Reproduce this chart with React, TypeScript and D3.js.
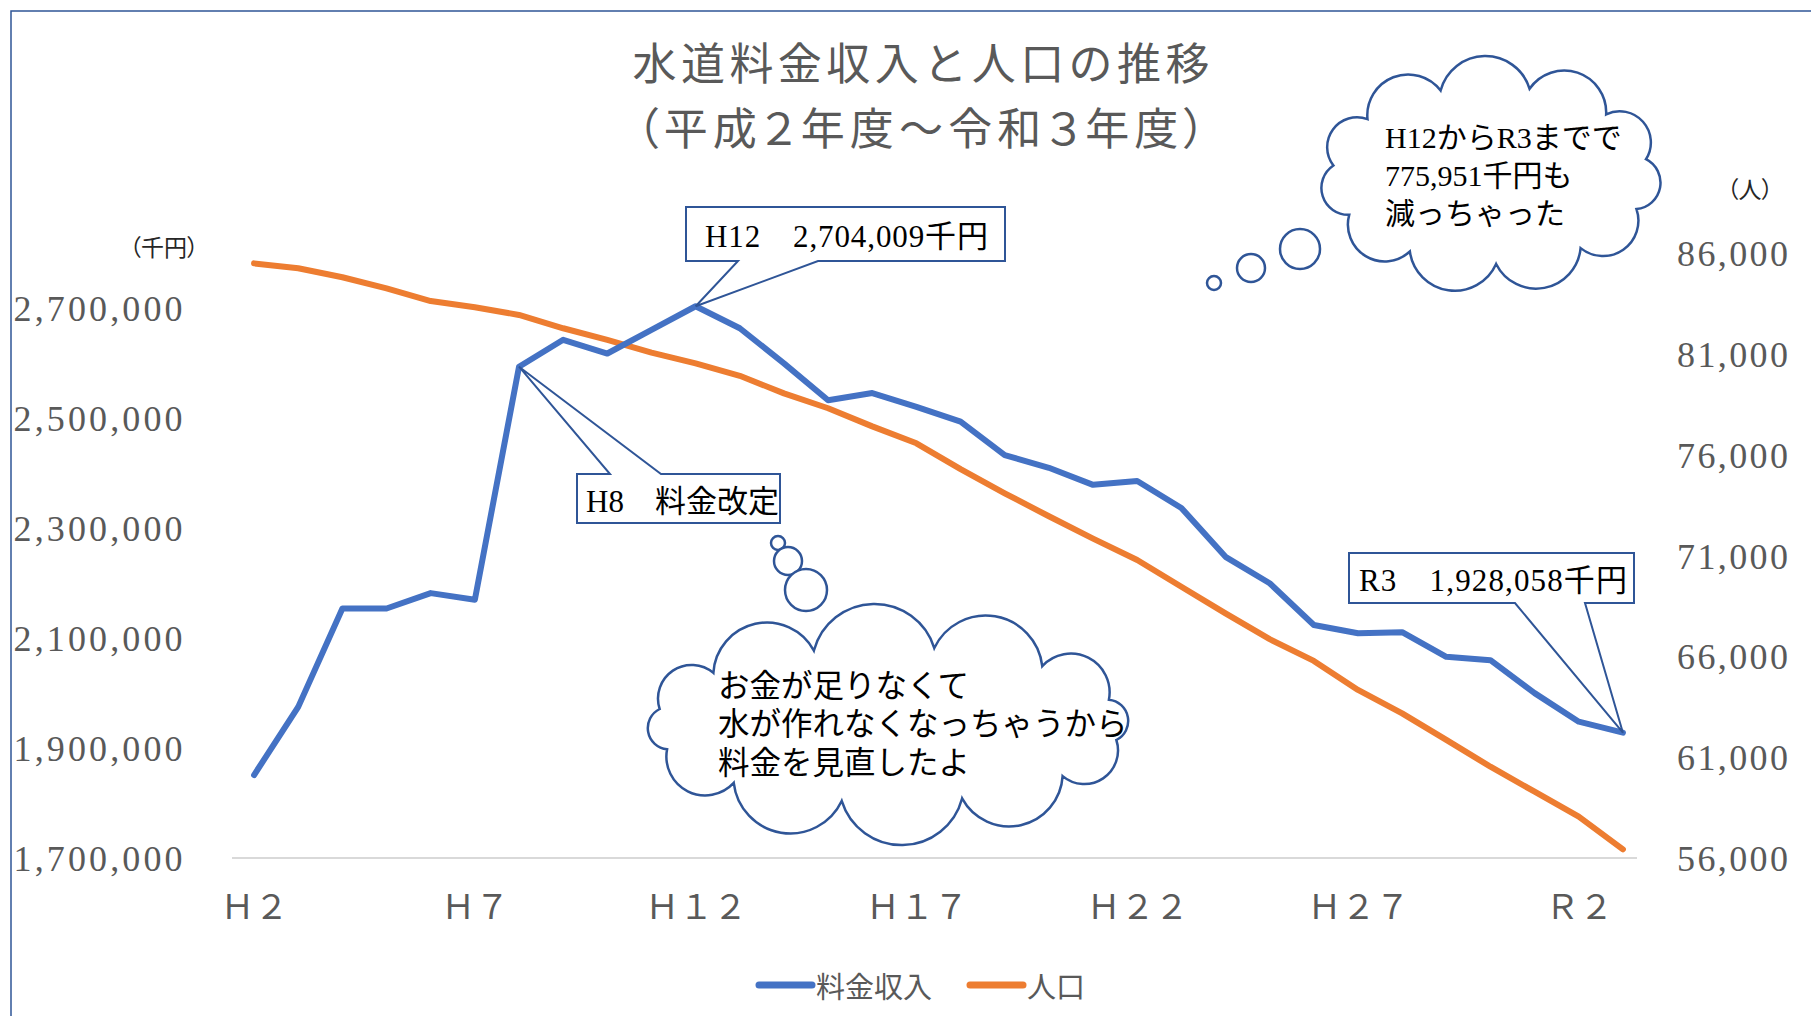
import { useEffect, useRef } from "react";
import * as d3 from "d3";

// fiscal years H2 .. R3
const years = [
  "Ｈ２", "Ｈ３", "Ｈ４", "Ｈ５", "Ｈ６", "Ｈ７", "Ｈ８", "Ｈ９", "Ｈ１０", "Ｈ１１",
  "Ｈ１２", "Ｈ１３", "Ｈ１４", "Ｈ１５", "Ｈ１６", "Ｈ１７", "Ｈ１８", "Ｈ１９", "Ｈ２０", "Ｈ２１",
  "Ｈ２２", "Ｈ２３", "Ｈ２４", "Ｈ２５", "Ｈ２６", "Ｈ２７", "Ｈ２８", "Ｈ２９", "Ｈ３０", "Ｒ１",
  "Ｒ２", "Ｒ３",
];
const shownYears = ["Ｈ２", "Ｈ７", "Ｈ１２", "Ｈ１７", "Ｈ２２", "Ｈ２７", "Ｒ２"];

// 料金収入 (千円)
const revenue = [
  1851000, 1975000, 2154000, 2154000, 2182000, 2170000, 2594000, 2643000, 2618000, 2661000,
  2704009, 2664000, 2600000, 2533000, 2546000, 2521000, 2494000, 2433000, 2410000, 2379000,
  2386000, 2337000, 2248000, 2200000, 2124000, 2109000, 2111000, 2066000, 2060000, 2000000,
  1948000, 1928058,
];

// 人口 (人)
const population = [
  85510, 85270, 84820, 84270, 83640, 83330, 82950, 82290, 81710, 81080,
  80550, 79930, 79060, 78320, 77420, 76580, 75300, 74100, 72960, 71850,
  70790, 69460, 68140, 66860, 65780, 64340, 63180, 61860, 60530, 59290,
  58050, 56430,
];

const leftTicks = [1700000, 1900000, 2100000, 2300000, 2500000, 2700000];
const rightTicks = [56000, 61000, 66000, 71000, 76000, 81000, 86000];
const seriesNames = ["料金収入", "人口"];

const W = 1811;
const H = 1016;
const left = 232;
const right = 1645;
const top = 253.5;
const bottom = 858;

const GRAY = "#595959";
const BLUE = "#4472C4";
const ORANGE = "#ED7D31";
const EDGE = "#2F5597";
const serif = "'Liberation Serif', 'Noto Sans CJK JP', serif";
const sans = "'Noto Sans CJK JP', sans-serif";

// scalloped cloud outline around an ellipse
const cloudPath = (cx: number, cy: number, rx: number, ry: number, n: number, start: number) => {
  const pts: [number, number][] = [];
  for (let i = 0; i <= n; i++) {
    const a = start + (i / n) * Math.PI * 2;
    pts.push([cx + rx * Math.cos(a), cy + ry * Math.sin(a)]);
  }
  let d = `M${pts[0][0]},${pts[0][1]}`;
  for (let i = 1; i < pts.length; i++) {
    const [x0, y0] = pts[i - 1];
    const [x1, y1] = pts[i];
    const r = Math.hypot(x1 - x0, y1 - y0) * 0.52;
    d += `A${r},${r} 0 0 1 ${x1},${y1}`;
  }
  return d + "Z";
};

const App = () => {
  const ref = useRef<SVGSVGElement>(null);

  useEffect(() => {
    const svg = d3.select(ref.current);
    svg.selectAll("*").remove();

    const x = d3.scalePoint<string>().domain(years).range([left, right]).padding(0.5);
    const yL = d3.scaleLinear().domain([1700000, 2800000]).range([bottom, top]);
    const yR = d3.scaleLinear().domain([56000, 86000]).range([bottom, top]);

    // chart area border
    svg.append("rect")
      .attr("x", 11).attr("y", 11)
      .attr("width", W).attr("height", H)
      .attr("fill", "none").attr("stroke", EDGE).attr("stroke-width", 1.5);

    // title
    const title = svg.append("g").attr("font-family", sans).attr("fill", GRAY).attr("text-anchor", "middle");
    title.append("text").attr("x", 921).attr("y", 61).attr("dominant-baseline", "central")
      .attr("font-size", 44).attr("textLength", 577).attr("lengthAdjust", "spacing")
      .text("水道料金収入と人口の推移");
    title.append("text").attr("x", 921).attr("y", 126).attr("dominant-baseline", "central")
      .attr("font-size", 44).attr("textLength", 569).attr("lengthAdjust", "spacing")
      .style("font-feature-settings", "'palt'").text("（平成２年度～令和３年度）");

    // units
    svg.append("text").attr("x", 164).attr("y", 246).attr("text-anchor", "middle")
      .attr("dominant-baseline", "central").attr("font-family", sans).attr("font-size", 23)
      .attr("fill", "#262626").style("font-feature-settings", "'palt'").text("（千円）");
    svg.append("text").attr("x", 1750).attr("y", 188).attr("text-anchor", "middle")
      .attr("dominant-baseline", "central").attr("font-family", sans).attr("font-size", 23)
      .attr("fill", "#262626").style("font-feature-settings", "'palt'").text("（人）");

    // baseline
    svg.append("line")
      .attr("x1", left).attr("x2", right - 8)
      .attr("y1", bottom).attr("y2", bottom)
      .attr("stroke", "#D9D9D9").attr("stroke-width", 2);

    // left axis
    const gL = svg.append("g").attr("transform", "translate(182.5,0)")
      .call(d3.axisLeft(yL).tickValues(leftTicks).tickSize(0).tickPadding(0).tickFormat(d3.format(",")));
    gL.select(".domain").remove();
    gL.selectAll("text")
      .attr("fill", GRAY).attr("font-family", serif).attr("font-size", 36)
      .attr("dy", "0.34em").attr("textLength", 169).attr("lengthAdjust", "spacing");

    // right axis
    const gR = svg.append("g").attr("transform", "translate(1677,0)")
      .call(d3.axisRight(yR).tickValues(rightTicks).tickSize(0).tickPadding(0).tickFormat(d3.format(",")));
    gR.select(".domain").remove();
    gR.selectAll("text")
      .attr("fill", GRAY).attr("font-family", serif).attr("font-size", 36)
      .attr("dy", "0.34em").attr("textLength", 111).attr("lengthAdjust", "spacing");

    // category axis
    const gX = svg.append("g").attr("transform", `translate(0,904)`)
      .call(d3.axisBottom(x).tickValues(shownYears).tickSize(0).tickPadding(0));
    gX.select(".domain").remove();
    gX.selectAll("text")
      .attr("fill", GRAY).attr("font-family", sans).attr("font-size", 34)
      .attr("dy", null).attr("y", 0).attr("dominant-baseline", "central");

    // series
    const lineL = d3.line<number>().x((_, i) => x(years[i]) as number).y((d) => yL(d));
    const lineR = d3.line<number>().x((_, i) => x(years[i]) as number).y((d) => yR(d));
    svg.append("path").datum(population)
      .attr("fill", "none").attr("stroke", ORANGE).attr("stroke-width", 6)
      .attr("stroke-linejoin", "round").attr("stroke-linecap", "round").attr("d", lineR);
    svg.append("path").datum(revenue)
      .attr("fill", "none").attr("stroke", BLUE).attr("stroke-width", 6)
      .attr("stroke-linejoin", "round").attr("stroke-linecap", "round").attr("d", lineL);

    // legend
    const legend = svg.append("g");
    [BLUE, ORANGE].forEach((c, i) => {
      const lx = [759, 970][i];
      legend.append("line").attr("x1", lx).attr("x2", lx + 53).attr("y1", 985).attr("y2", 985)
        .attr("stroke", c).attr("stroke-width", 7).attr("stroke-linecap", "round");
      legend.append("text").attr("x", lx + 57).attr("y", 985).attr("dominant-baseline", "central")
        .attr("font-family", sans).attr("font-size", 29).attr("fill", GRAY).text(seriesNames[i]);
    });

    // callouts
    const callout = (
      rx0: number, ry0: number, rx1: number, ry1: number,
      side: "top" | "bottom", b0: number, b1: number, tip: [number, number],
      label: string, tx: number, ty: number, tl: number | null
    ) => {
      const d = side === "bottom"
        ? `M${rx0},${ry0}H${rx1}V${ry1}H${b1}L${tip[0]},${tip[1]}L${b0},${ry1}H${rx0}Z`
        : `M${rx0},${ry0}H${b0}L${tip[0]},${tip[1]}L${b1},${ry0}H${rx1}V${ry1}H${rx0}Z`;
      svg.append("path").attr("d", d).attr("fill", "#fff").attr("stroke", EDGE)
        .attr("stroke-width", 2).attr("stroke-linejoin", "miter");
      const t = svg.append("text").attr("x", tx).attr("y", ty).attr("dominant-baseline", "central")
        .attr("font-family", serif).attr("font-size", 31).attr("fill", "#000").text(label);
      if (tl) t.attr("textLength", tl).attr("lengthAdjust", "spacing");
    };

    const i12 = years.indexOf("Ｈ１２");
    const i8 = years.indexOf("Ｈ８");
    const i3 = years.indexOf("Ｒ３");
    callout(686, 207, 1005, 261, "bottom", 738, 818,
      [x(years[i12]) as number, yL(revenue[i12])],
      `H12　${d3.format(",")(revenue[i12])}千円`, 705, 236, 283);
    callout(577, 474, 780, 523, "top", 610, 661,
      [x(years[i8]) as number, yL(revenue[i8])],
      "H8　料金改定", 586, 501, null);
    callout(1349, 553, 1634, 603, "bottom", 1515, 1585,
      [x(years[i3]) as number, yL(revenue[i3])],
      `R3　${d3.format(",")(revenue[i3])}千円`, 1359, 580, 268);

    // thought clouds
    const cloudG = svg.append("g").attr("fill", "#fff").attr("stroke", EDGE).attr("stroke-width", 2.5);
    cloudG.append("path").attr("d", cloudPath(1490.5, 175, 158, 89, 11, -Math.PI / 2 + 0.25));
    [[1214, 283, 7], [1251, 268, 14], [1300, 249, 20]].forEach(([cx, cy, r]) =>
      cloudG.append("circle").attr("cx", cx).attr("cy", cy).attr("r", r));
    cloudG.append("path").attr("d", cloudPath(888, 724.5, 233, 78, 12, -Math.PI / 2 + 0.2));
    [[778, 543, 7], [788, 561, 14], [806, 590, 21]].forEach(([cx, cy, r]) =>
      cloudG.append("circle").attr("cx", cx).attr("cy", cy).attr("r", r));

    const bubble1 = ["H12からR3までで", `${d3.format(",")(revenue[i12] - revenue[i3])}千円も`, "減っちゃった"];
    bubble1.forEach((s, i) =>
      svg.append("text").attr("x", 1385).attr("y", 137 + i * 38).attr("dominant-baseline", "central")
        .attr("font-family", serif).attr("font-size", 30).attr("fill", "#000").text(s));
    const bubble2 = ["お金が足りなくて", "水が作れなくなっちゃうから", "料金を見直したよ"];
    bubble2.forEach((s, i) =>
      svg.append("text").attr("x", 718).attr("y", 686 + i * 38.5).attr("dominant-baseline", "central")
        .attr("font-family", serif).attr("font-size", 31.5).attr("fill", "#000").text(s));
  }, []);

  return (
    <svg
      ref={ref}
      width={W}
      height={H}
      style={{ position: "absolute", left: 0, top: 0, background: "#fff" }}
    />
  );
};

export default App;
